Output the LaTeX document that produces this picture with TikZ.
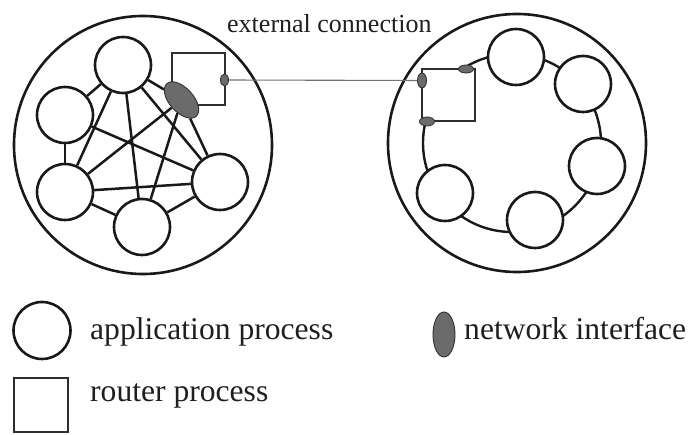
\documentclass[tikz,border=0pt]{standalone}
\usepackage{fontspec}
\setmainfont{Liberation Serif}
\usetikzlibrary{shapes.geometric}
\begin{document}
\begin{tikzpicture}[x=1pt,y=-1pt,
  app/.style={circle,draw=black!90,fill=white,line width=2.6pt,minimum size=56pt,inner sep=0pt},
  bigc/.style={circle,draw=black!90,line width=2.6pt,minimum size=258pt,inner sep=0pt},
  rbox/.style={rectangle,draw=black!82,fill=white,line width=2.8pt,minimum width=53pt,minimum height=52pt,inner sep=0pt},
  ni/.style={ellipse,draw=black!80,fill=black!58,line width=0.9pt,inner sep=0pt},
  edge/.style={line width=2.5pt,draw=black!90},
  lbl/.style={inner sep=0pt,anchor=base west,text=black!88,font=\fontsize{26}{30}\selectfont},
  leg/.style={inner sep=0pt,anchor=base west,text=black!88,font=\fontsize{31.6}{36}\selectfont}
]
\useasboundingbox (0,0) rectangle (691,435);

% big circles
\node[bigc] (LC) at (143,145) {};
\node[bigc] (RC) at (517,143) {};

% ---- left cluster ----
\node[rbox] (LB) at (198.5,79) {};
\node[app] (T) at (123,65) {};
\node[app] (L) at (65,115) {};
\node[app] (BL) at (65,192) {};
\node[app] (B) at (142,227) {};
\node[app] (R) at (220,182) {};
\node[ni,rotate=-48,minimum width=44pt,minimum height=24pt] (E) at (181.5,100) {};
\node[ni,minimum width=8pt,minimum height=12pt] (NL) at (224.5,80) {};

% edges
\draw[edge] (T) -- (L);
\draw[edge] (T) -- (E);
\draw[edge] (T) -- (BL);
\draw[edge] (T) -- (B);
\draw[edge] (T) -- (R);
\draw[edge] (L) -- (BL);
\draw[edge] (L) -- (R);
\draw[edge] (BL) -- (E);
\draw[edge] (BL) -- (R);
\draw[edge] (BL) -- (B);
\draw[edge] (B) -- (R);
\draw[edge] (B) -- (E);
\draw[edge] (E) -- (R);

% ---- right cluster ----
\coordinate (RingC) at (512,143);
\draw[line width=2.4pt,black!90] (RingC) circle[radius=89pt];
\node[rbox] (RB) at (448.5,95) {};
\node[ni,minimum width=9pt,minimum height=15pt] (NR1) at (422,80.5) {};
\node[ni,minimum width=15pt,minimum height=8pt] (NR2) at (466,69) {};
\node[ni,minimum width=15pt,minimum height=9pt] (NR3) at (427,121.5) {};
\node[app] (C1) at (516,57) {};
\node[app] (C2) at (583,84) {};
\node[app] (C3) at (597,166) {};
\node[app] (C4) at (535,220) {};
\node[app] (C5) at (445,193) {};

% external connection
\draw[line width=1.1pt,black!55] (NL) -- (NR1);
\node[lbl] (ext) at (227,33) {external connection};

% ---- legend ----
\node[app,minimum size=57pt] (legC) at (42,330.5) {};
\node[leg] (legCt) at (90,340) {application process};
\node[rbox,minimum width=54pt,minimum height=54pt] (legB) at (41,405) {};
\node[leg] (legBt) at (90,402) {router process};
\node[ni,minimum width=22pt,minimum height=45pt] (legN) at (444,334.5) {};
\node[leg] (legNt) at (464,340) {network interface};
\end{tikzpicture}
\end{document}
